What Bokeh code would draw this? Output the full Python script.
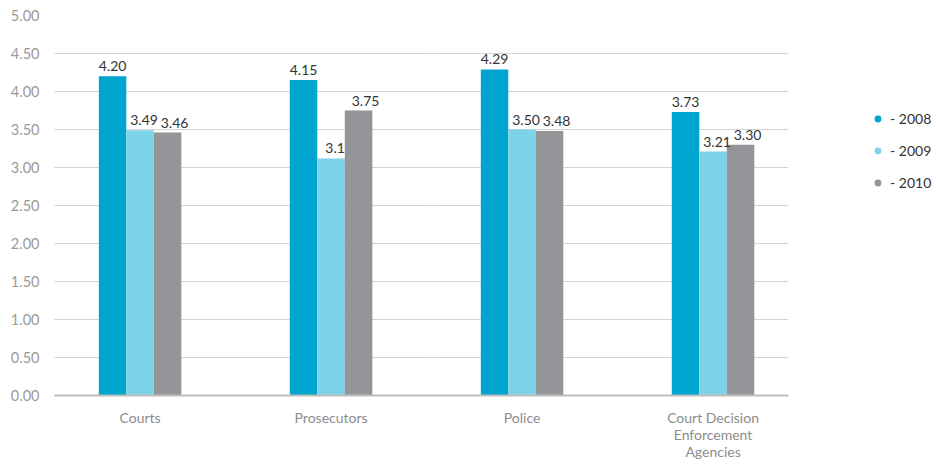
from bokeh.plotting import figure
from bokeh.models import ColumnDataSource, FixedTicker, Legend, LegendItem, LabelSet, Range1d
from bokeh.core.properties import value
from bokeh.embed import file_html
from bokeh.resources import INLINE

categories = ["Courts", "Prosecutors", "Police", "Court Decision\nEnforcement\nAgencies"]
years = ["2008", "2009", "2010"]
values_2008 = [4.20, 4.15, 4.29, 3.73]
values_2009 = [3.49, 3.12, 3.50, 3.21]
values_2010 = [3.46, 3.75, 3.48, 3.30]
labels_2008 = ["4.20", "4.15", "4.29", "3.73"]
labels_2009 = ["3.49", "3.1", "3.50", "3.21"]
labels_2010 = ["3.46", "3.75", "3.48", "3.30"]
y_ticks = [0, 0.5, 1, 1.5, 2, 2.5, 3, 3.5, 4, 4.5, 5]

colors = ["#00A5CF", "#7ED3E8", "#939598"]
FONT = "Lato"

p = figure(frame_width=734, frame_height=380, output_backend="svg", toolbar_location=None,
           x_range=Range1d(-0.448, 3.395), y_range=Range1d(0, 5),
           min_border_left=54, min_border_top=15, min_border_bottom=68,
           min_border_right=148, outline_line_color=None)

bw = 0.144
offsets = [-bw, 0, bw]
xoffs_px = [0, 4, 7]
series = [values_2008, values_2009, values_2010]
lab = [labels_2008, labels_2009, labels_2010]
items = []
for i, (vals, lbls) in enumerate(zip(series, lab)):
    xs = [k + offsets[i] for k in range(len(categories))]
    src = ColumnDataSource(dict(x=xs, top=vals, lab=lbls))
    p.vbar(x="x", top="top", width=bw, bottom=0, source=src,
           fill_color=colors[i], line_color=None)
    p.add_layout(LabelSet(x="x", y="top", text="lab", source=src,
                          x_offset=xoffs_px[i], y_offset=5,
                          text_align="center", text_baseline="bottom",
                          text_font=value(FONT), text_font_size="14px",
                          text_color="#333333"))
    r = p.scatter(x=[0], y=[-10], size=11, marker="circle",
                  fill_color=colors[i], line_color=None)
    items.append(LegendItem(label="- " + years[i], renderers=[r]))

legend = Legend(items=items, location=(81, 204), border_line_color=None,
                label_text_font=FONT, label_text_font_size="14px",
                label_text_color="#333333", glyph_width=17, glyph_height=17,
                spacing=15, margin=0, padding=0, label_standoff=4,
                background_fill_alpha=0)
p.add_layout(legend, "right")

p.xaxis.ticker = FixedTicker(ticks=list(range(len(categories))))
p.xaxis.major_label_overrides = {i: c for i, c in enumerate(categories)}
p.xaxis.major_tick_line_color = None
p.xaxis.minor_tick_line_color = None
p.xaxis.major_tick_out = 0
p.xaxis.major_tick_in = 0
p.xaxis.axis_line_color = "#BDBDBD"
p.xaxis.axis_line_width = 2
p.xaxis.major_label_text_font = FONT
p.xaxis.major_label_text_font_size = "14px"
p.xaxis.major_label_text_color = "#8C8C8C"
p.xaxis.major_label_standoff = 13
p.xaxis.major_label_text_line_height = 1.0

p.yaxis.ticker = FixedTicker(ticks=y_ticks)
p.yaxis.major_label_overrides = {t: f"{t:.2f}" for t in y_ticks}
p.yaxis.axis_line_color = None
p.yaxis.major_tick_line_color = None
p.yaxis.minor_tick_line_color = None
p.yaxis.major_tick_out = 0
p.yaxis.major_tick_in = 0
p.yaxis.major_label_text_font = FONT
p.yaxis.major_label_text_font_size = "14.5px"
p.yaxis.major_label_text_color = "#9A9A9A"
p.yaxis.major_label_standoff = 15

p.xgrid.grid_line_color = None
p.ygrid.grid_line_color = "#A8A8A8"
p.ygrid.grid_line_dash = "1 1"
p.ygrid.grid_line_width = 1

open("out.html", "w").write(file_html(p, INLINE))
